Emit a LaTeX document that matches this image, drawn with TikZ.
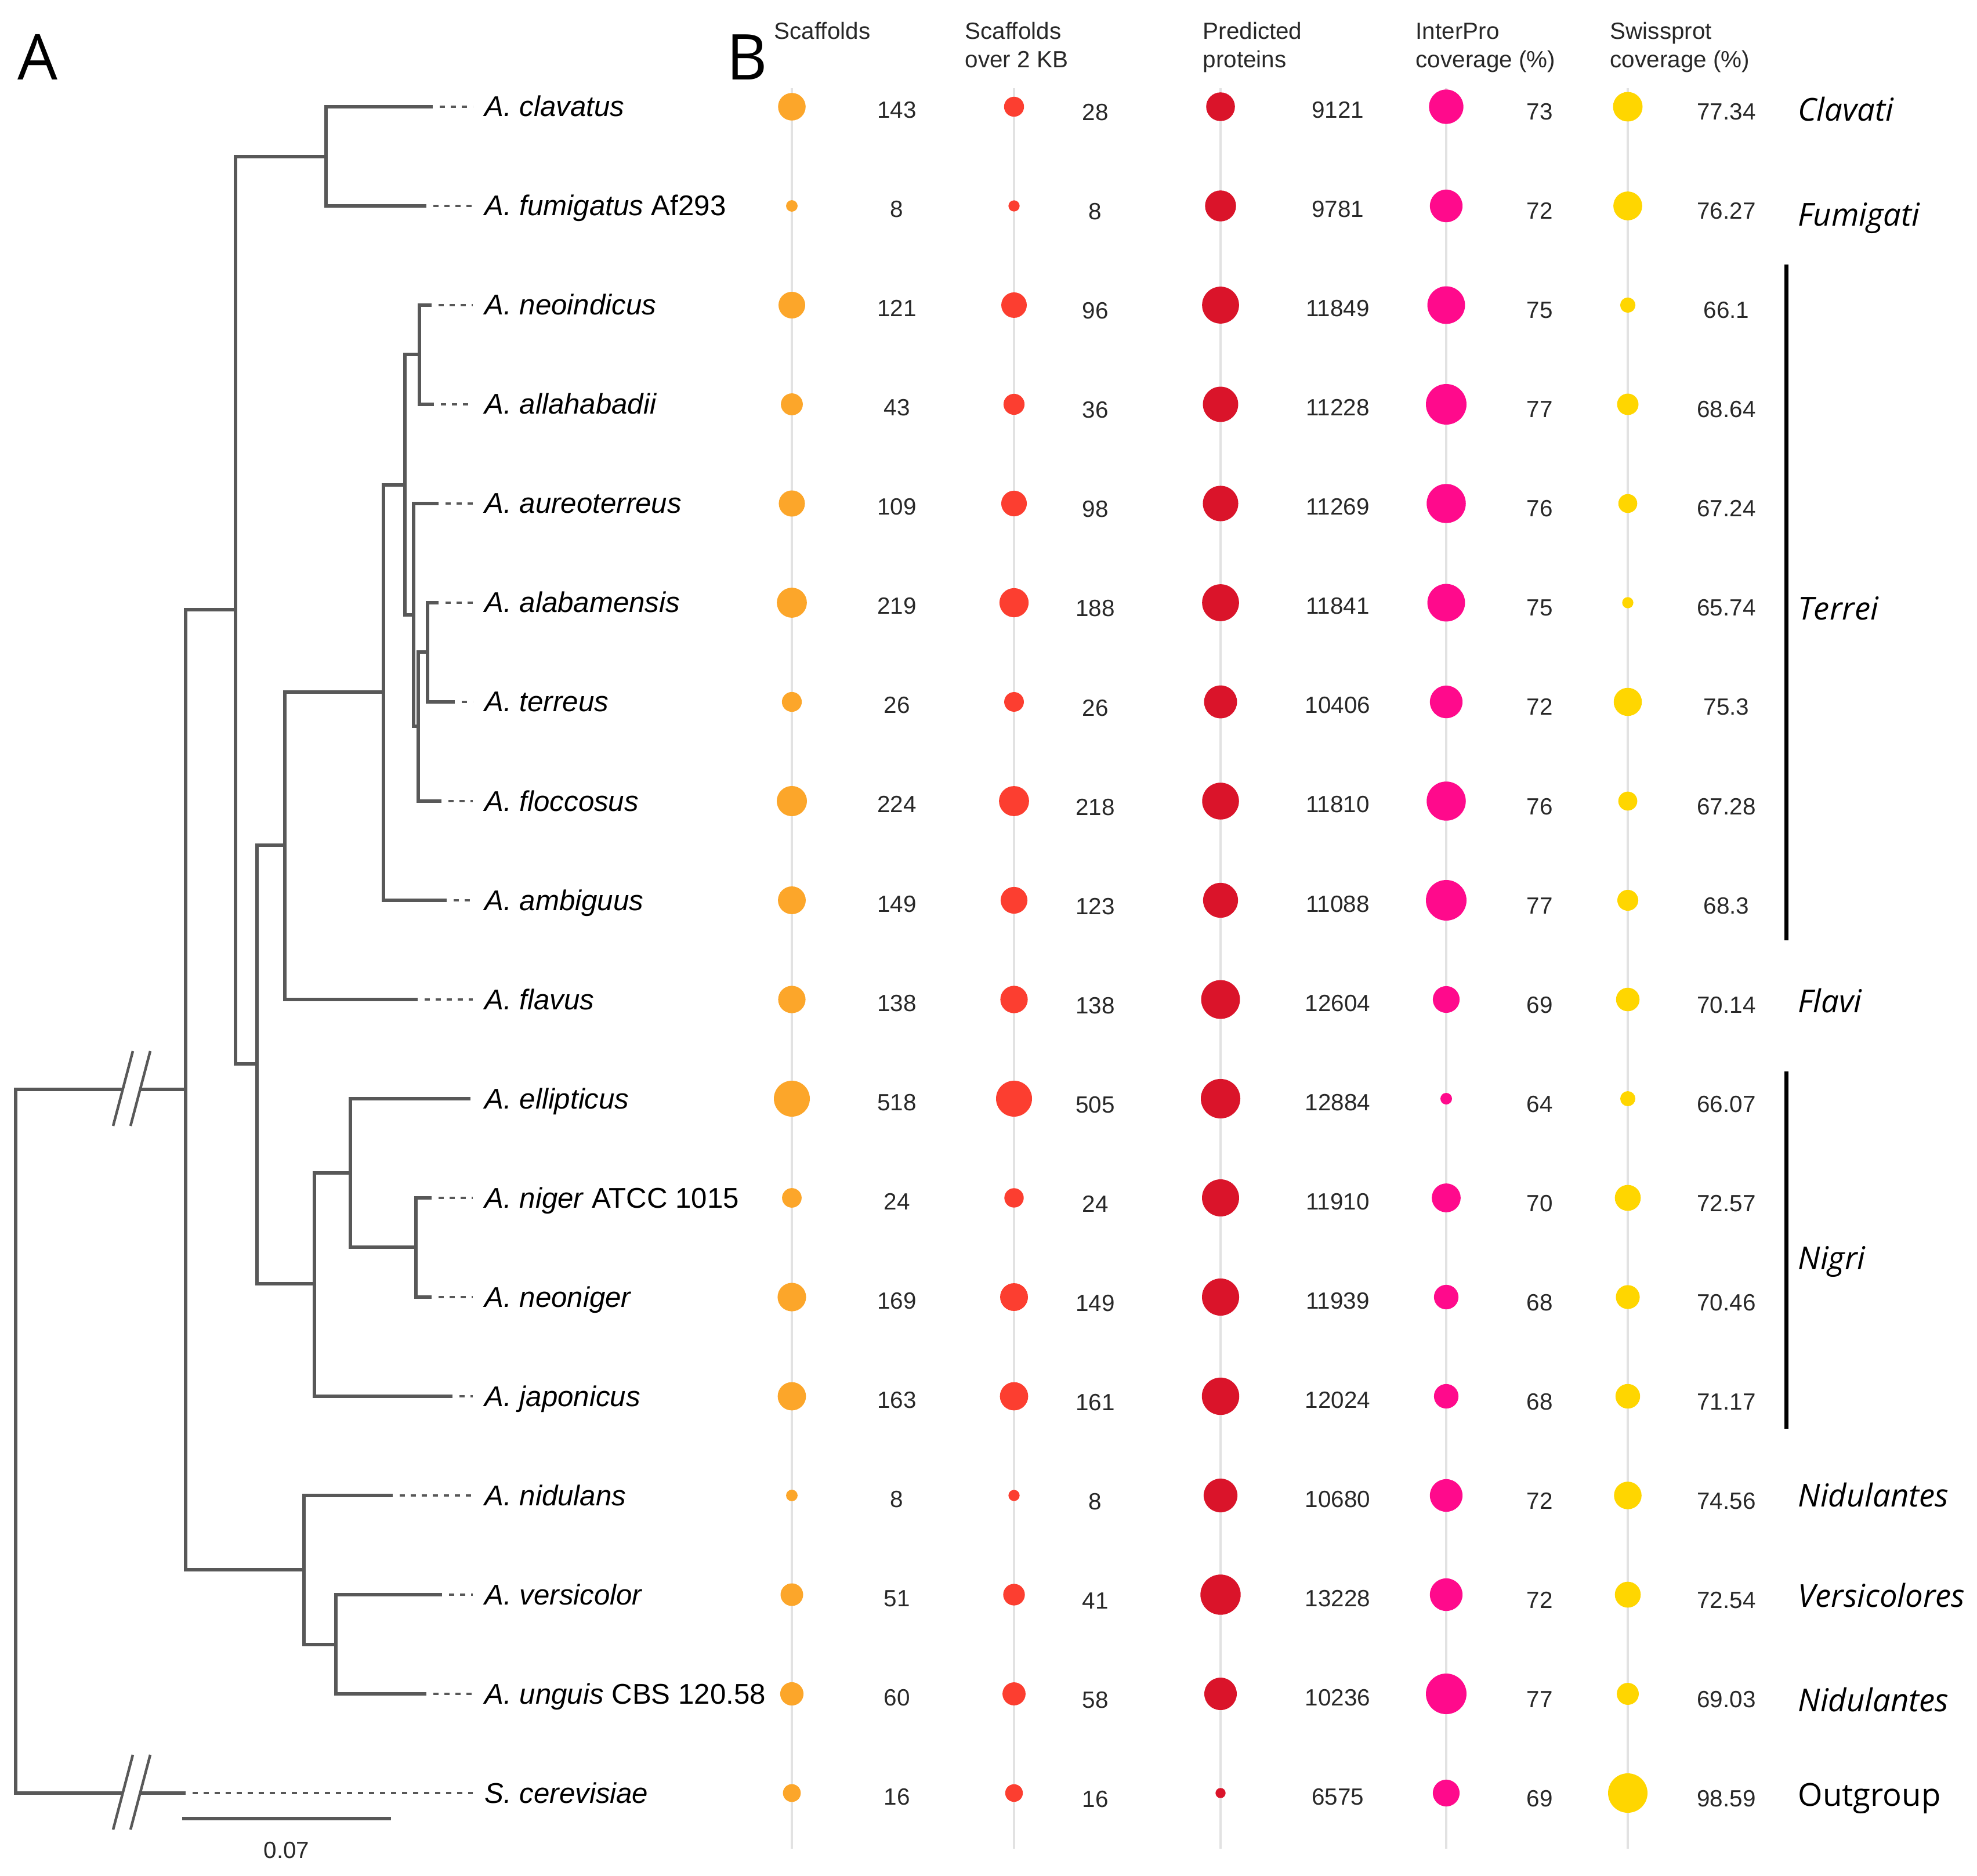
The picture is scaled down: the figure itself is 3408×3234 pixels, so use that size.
\documentclass[tikz,border=0pt]{standalone}
\usepackage{fontspec}
\setmainfont{Liberation Sans}
\newfontfamily\cladefont{Open Sans}
\definecolor{treegray}{RGB}{88,88,88}
\definecolor{colgray}{RGB}{226,226,226}
\definecolor{numgray}{RGB}{40,40,40}
\definecolor{cA}{RGB}{252,166,42}
\definecolor{cB}{RGB}{252,62,48}
\definecolor{cC}{RGB}{218,20,42}
\definecolor{cD}{RGB}{255,10,140}
\definecolor{cE}{RGB}{255,214,0}
\begin{document}
\begin{tikzpicture}[x=0.1mm,y=-0.1mm,
  branch/.style={draw=treegray, line width=0.58mm, line cap=rect},
  slash/.style={draw=treegray, line width=0.45mm},
  leafdash/.style={draw=treegray, line width=0.4mm, dash pattern=on 0.85mm off 1.05mm, shorten <=1.5mm, shorten >=2mm},
  sp/.style={anchor=base west, inner sep=0, font=\fontsize{14}{16}\selectfont},
  num/.style={anchor=base, inner sep=0, text=numgray, font=\fontsize{11.5}{13}\selectfont},
  hdr/.style={anchor=base west, inner sep=0, text=numgray, font=\fontsize{11.5}{13}\selectfont},
  clade/.style={anchor=base west, inner sep=0, font=\cladefont\fontsize{15.5}{18}\selectfont},
  panel/.style={anchor=base, inner sep=0, font=\cladefont\fontsize{31}{36}\selectfont},
  dot/.style={circle, inner sep=0, draw=none},
  colline/.style={draw=colgray, line width=0.4mm},
  cladebar/.style={draw=black, line width=0.7mm}]
\useasboundingbox (0,0) rectangle (3408,3234);

% panel letters
\node[panel] (pA) at (65,138) {A};
\node[panel] (pB) at (1288,138) {B};

% column guide lines
\foreach \cx/\nm in {1365/a,1748/b,2104/c,2493/d,2806/e}
  \draw[colline] (\cx,152) coordinate (top\nm) -- (\cx,3187) coordinate (bot\nm);

% headers
\node[hdr] (h1) at (1334,68) {Scaffolds};
\node[hdr] (h2a) at (1663,68) {Scaffolds};
\node[hdr] (h2b) at (1663,117) {over 2 KB};
\node[hdr] (h3a) at (2073,68) {Predicted};
\node[hdr] (h3b) at (2073,117) {proteins};
\node[hdr] (h4a) at (2440,68) {InterPro};
\node[hdr] (h4b) at (2440,117) {coverage (\%)};
\node[hdr] (h5a) at (2775,68) {Swissprot};
\node[hdr] (h5b) at (2775,117) {coverage (\%)};

% species labels
\node[sp] (lab0) at (835,201) {\textit{A. clavatus}};
\node[sp] (lab1) at (835,372) {\textit{A. fumigatus} Af293};
\node[sp] (lab2) at (835,543) {\textit{A. neoindicus}};
\node[sp] (lab3) at (835,714) {\textit{A. allahabadii}};
\node[sp] (lab4) at (835,885) {\textit{A. aureoterreus}};
\node[sp] (lab5) at (835,1056) {\textit{A. alabamensis}};
\node[sp] (lab6) at (835,1227) {\textit{A. terreus}};
\node[sp] (lab7) at (835,1398) {\textit{A. floccosus}};
\node[sp] (lab8) at (835,1569) {\textit{A. ambiguus}};
\node[sp] (lab9) at (835,1740) {\textit{A. flavus}};
\node[sp] (lab10) at (835,1911) {\textit{A. ellipticus}};
\node[sp] (lab11) at (835,2082) {\textit{A. niger} ATCC 1015};
\node[sp] (lab12) at (835,2253) {\textit{A. neoniger}};
\node[sp] (lab13) at (835,2424) {\textit{A. japonicus}};
\node[sp] (lab14) at (835,2595) {\textit{A. nidulans}};
\node[sp] (lab15) at (835,2766) {\textit{A. versicolor}};
\node[sp] (lab16) at (835,2937) {\textit{A. unguis} CBS 120.58};
\node[sp] (lab17) at (835,3108) {\textit{S. cerevisiae}};

% tree coordinates
\coordinate (R) at (27,2485);
\coordinate (b1a) at (210,1878);
\coordinate (b1b) at (243,1878);
\coordinate (b2a) at (210,3091);
\coordinate (b2b) at (243,3091);
\coordinate (N1) at (320,1878);
\coordinate (N2) at (406,1051);
\coordinate (N3) at (562,270);
\coordinate (N4) at (443,1834);
\coordinate (N5) at (491,1457);
\coordinate (N6) at (661,1193);
\coordinate (N7) at (698,836);
\coordinate (N8) at (723,611);
\coordinate (N9) at (713,1060);
\coordinate (N10) at (721,1252);
\coordinate (N11) at (737,1124);
\coordinate (N12) at (542,2213);
\coordinate (N13) at (604,2022);
\coordinate (N14) at (717,2150);
\coordinate (N15) at (524,2706);
\coordinate (N16) at (579,2835);
\coordinate (t0) at (743,184);
\coordinate (t1) at (732,355);
\coordinate (t2) at (741,526);
\coordinate (t3) at (745,697);
\coordinate (t4) at (753,868);
\coordinate (t5) at (753,1039);
\coordinate (t6) at (781,1210);
\coordinate (t7) at (758,1381);
\coordinate (t8) at (767,1552);
\coordinate (t9) at (717,1723);
\coordinate (t10) at (808,1894);
\coordinate (t11) at (741,2065);
\coordinate (t12) at (741,2236);
\coordinate (t13) at (777,2407);
\coordinate (t14) at (674,2578);
\coordinate (t15) at (759,2749);
\coordinate (t16) at (732,2920);
\coordinate (t17) at (317,3091);

% branches
\draw[branch] (R) |- (b1a);
\draw[branch] (R) |- (b2a);
\draw[branch] (b1b) -- (N1);
\draw[branch] (b2b) -- (t17);
\draw[branch] (N1) |- (N2);
\draw[branch] (N1) |- (N15);
\draw[branch] (N2) |- (N3);
\draw[branch] (N2) |- (N4);
\draw[branch] (N3) |- (t0);
\draw[branch] (N3) |- (t1);
\draw[branch] (N4) |- (N5);
\draw[branch] (N4) |- (N12);
\draw[branch] (N5) |- (N6);
\draw[branch] (N5) |- (t9);
\draw[branch] (N6) |- (N7);
\draw[branch] (N6) |- (t8);
\draw[branch] (N7) |- (N8);
\draw[branch] (N7) |- (N9);
\draw[branch] (N8) |- (t2);
\draw[branch] (N8) |- (t3);
\draw[branch] (N9) |- (t4);
\draw[branch] (N9) |- (N10);
\draw[branch] (N10) |- (N11);
\draw[branch] (N10) |- (t7);
\draw[branch] (N11) |- (t5);
\draw[branch] (N11) |- (t6);
\draw[branch] (N12) |- (N13);
\draw[branch] (N12) |- (t13);
\draw[branch] (N13) |- (t10);
\draw[branch] (N13) |- (N14);
\draw[branch] (N14) |- (t11);
\draw[branch] (N14) |- (t12);
\draw[branch] (N15) |- (t14);
\draw[branch] (N15) |- (N16);
\draw[branch] (N16) |- (t15);
\draw[branch] (N16) |- (t16);

% break marks
\foreach \yb/\nm in {1878/u,3091/l}{
  \draw[slash] (195,\yb+63) coordinate (s1\nm) -- (229,\yb-66);
  \draw[slash] (225,\yb+63) coordinate (s2\nm) -- (259,\yb-66);
}

% dashed leaf extensions
\foreach \k in {0,1,2,3,4,5,6,7,8,9,11,12,13,14,15,16,17}
  \draw[leafdash] (t\k) -- (t\k -| lab\k.west);

% scale bar
\coordinate (sb1) at (314,3135);
\coordinate (sb2) at (674,3135);
\draw[branch, line cap=butt] (sb1) -- (sb2);
\node[num] (sbl) at (494,3203) {0.07};

% data dots and numbers
\foreach \i/\va/\vb/\vc/\vd/\ve in {
0/143/28/9121/73/77.34,
1/8/8/9781/72/76.27,
2/121/96/11849/75/66.1,
3/43/36/11228/77/68.64,
4/109/98/11269/76/67.24,
5/219/188/11841/75/65.74,
6/26/26/10406/72/75.3,
7/224/218/11810/76/67.28,
8/149/123/11088/77/68.3,
9/138/138/12604/69/70.14,
10/518/505/12884/64/66.07,
11/24/24/11910/70/72.57,
12/169/149/11939/68/70.46,
13/163/161/12024/68/71.17,
14/8/8/10680/72/74.56,
15/51/41/13228/72/72.54,
16/60/58/10236/77/69.03,
17/16/16/6575/69/98.59}{
  \pgfmathsetmacro\yy{184+171*\i}
  \pgfmathsetmacro\da{0.2*(9+22*((\va-8)/510+0.00001)^0.3)}
  \pgfmathsetmacro\db{0.2*(8.7+22.3*((\vb-8)/497+0.00001)^0.3)}
  \pgfmathsetmacro\dc{0.2*(8.7+26*sqrt((\vc-6575)/6653))}
  \pgfmathsetmacro\dd{0.2*sqrt(100+1125*((\vd-64)/13))}
  \pgfmathsetmacro\de{0.2*(9+25*((\ve-65.74)/32.85+0.0001)^0.4)}
  \node[dot, fill=cA, minimum size=\da mm] (dA\i) at (1365,\yy) {};
  \node[dot, fill=cB, minimum size=\db mm] (dB\i) at (1748,\yy) {};
  \node[dot, fill=cC, minimum size=\dc mm] (dC\i) at (2104,\yy) {};
  \node[dot, fill=cD, minimum size=\dd mm] (dD\i) at (2493,\yy) {};
  \node[dot, fill=cE, minimum size=\de mm] (dE\i) at (2806,\yy) {};
  \node[num] (nA\i) at (1546,\yy+20) {\va};
  \node[num] (nB\i) at (1888,\yy+24) {\vb};
  \node[num] (nC\i) at (2306,\yy+20) {\vc};
  \node[num] (nD\i) at (2654,\yy+23) {\vd};
  \node[num] (nE\i) at (2976,\yy+23) {\ve};
}

% clade bars and labels
\draw[cladebar] (3079,456) coordinate (terA) -- (3079,1621) coordinate (terB);
\draw[cladebar] (3079,1847) coordinate (nigA) -- (3079,2463) coordinate (nigB);
\node[clade] (cl1) at (3099,209) {\itshape Clavati};
\node[clade] (cl2) at (3099,390) {\itshape Fumigati};
\node[clade] (cl3) at (3099,1069) {\itshape Terrei};
\node[clade] (cl4) at (3099,1745) {\itshape Flavi};
\node[clade] (cl5) at (3099,2188) {\itshape Nigri};
\node[clade] (cl6) at (3099,2597) {\itshape Nidulantes};
\node[clade] (cl7) at (3099,2770) {\itshape Versicolores};
\node[clade] (cl8) at (3099,2950) {\itshape Nidulantes};
\node[clade] (cl9) at (3099,3113) {Outgroup};
\end{tikzpicture}
\end{document}
